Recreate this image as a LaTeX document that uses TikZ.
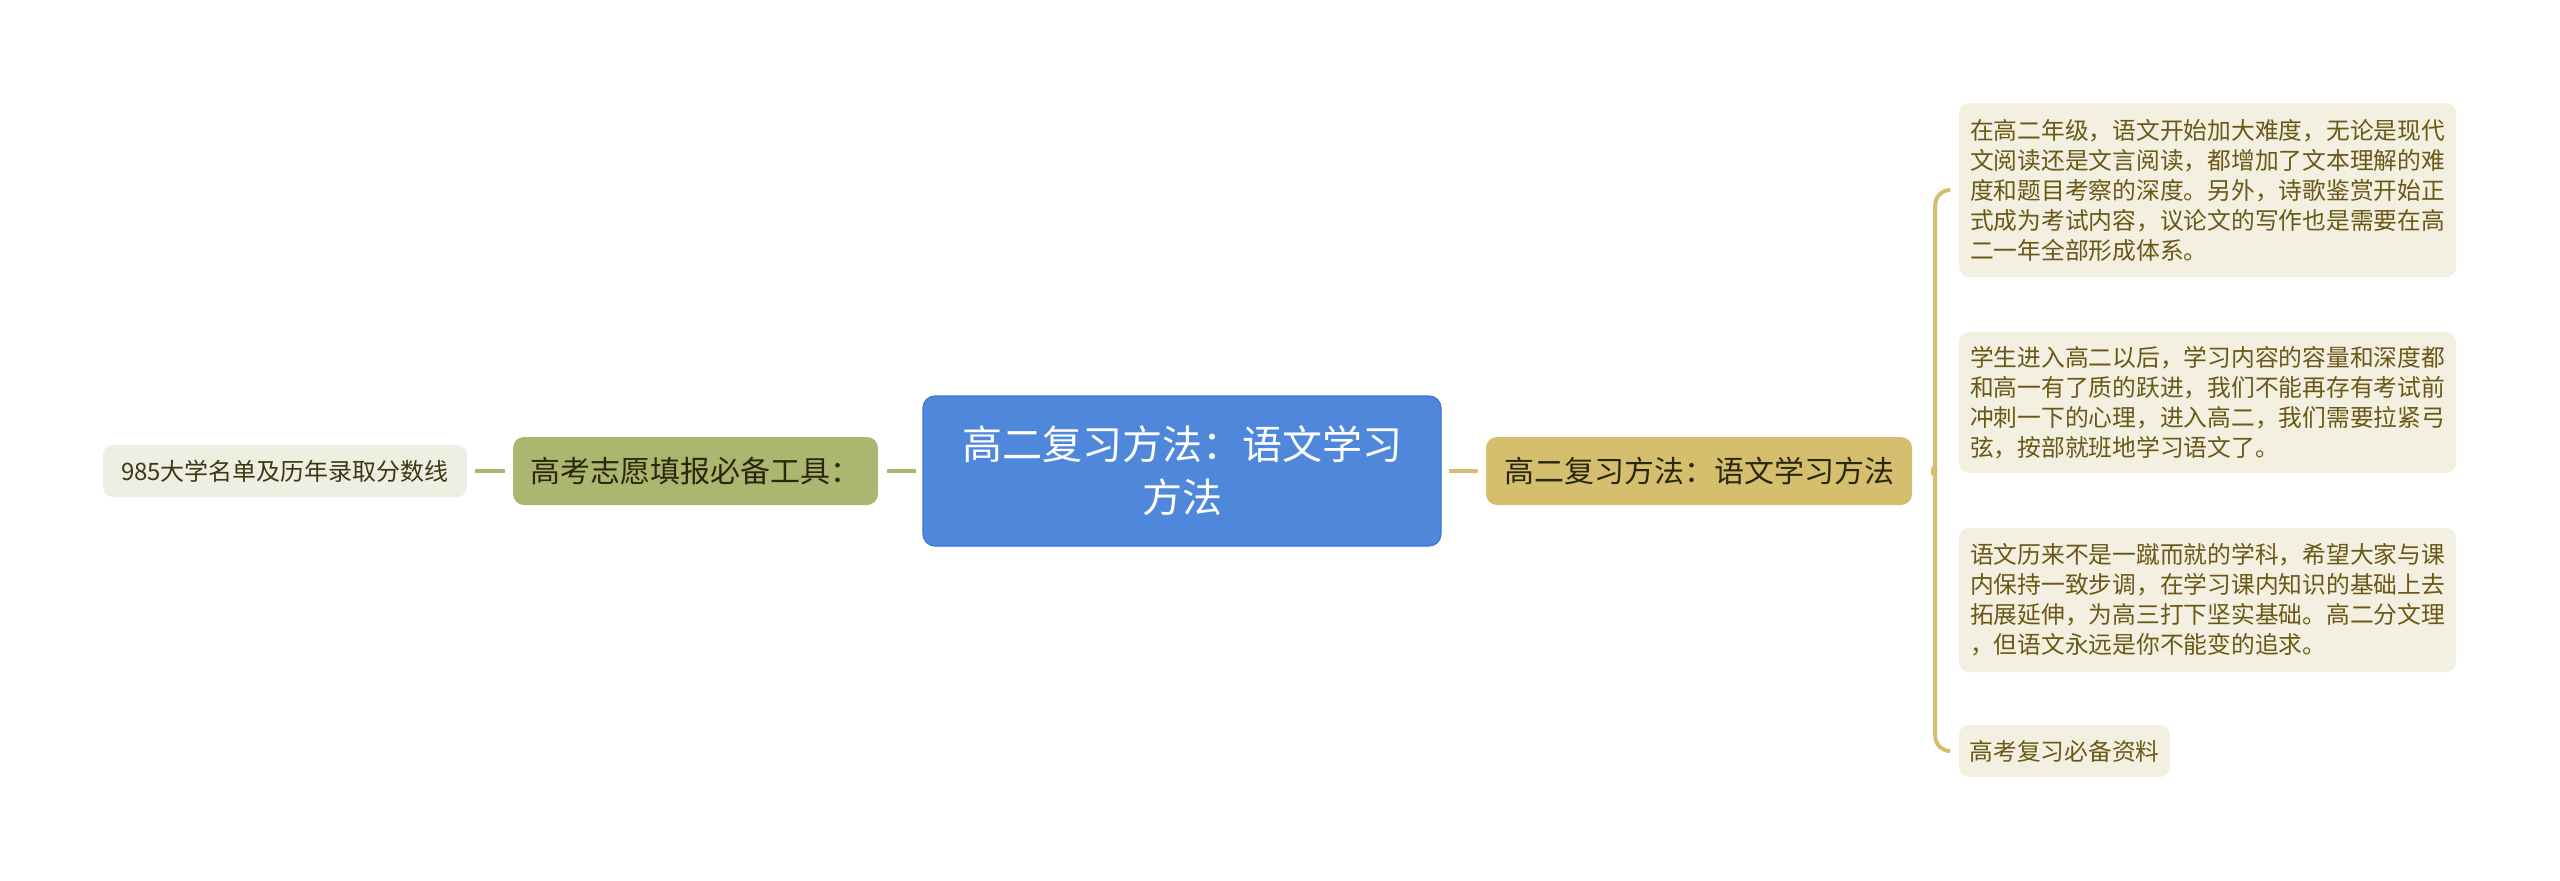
\documentclass[tikz,border=0pt]{standalone}
\usepackage{fontspec}
\setmainfont{Noto Sans CJK SC}
\usetikzlibrary{calc}
\definecolor{blueC}{HTML}{4F87DB}
\definecolor{blueB}{HTML}{3A76D8}
\definecolor{oliveC}{HTML}{ADB66E}
\definecolor{goldC}{HTML}{D5BE6E}
\definecolor{leafLC}{HTML}{EEEEE3}
\definecolor{leafRC}{HTML}{F3F0E1}
\definecolor{txtR}{HTML}{6B5716}
\definecolor{txtL}{HTML}{3A3A12}
\definecolor{txtM}{HTML}{28280E}
\begin{document}
\begin{tikzpicture}[x=1pt,y=-1pt,
  box/.style={rectangle, inner sep=0pt, align=center},
  centerbox/.style={box, rounded corners=12pt, fill=blueC, draw=blueB, line width=1.2pt,
    text=white, font=\fontsize{40}{53}\selectfont},
  mainL/.style={box, rounded corners=11pt, fill=oliveC, text=txtM, font=\fontsize{30}{36}\selectfont},
  mainR/.style={box, rounded corners=11pt, fill=goldC, text=txtM, font=\fontsize{30}{36}\selectfont},
  leafL/.style={box, rounded corners=10pt, fill=leafLC, text=txtL, font=\fontsize{24}{30}\selectfont},
  leafR/.style={box, rounded corners=10pt, fill=leafRC, text=txtR, align=left, font=\fontsize{23.75}{30}\selectfont},
  connL/.style={draw=oliveC, line width=4.5pt},
  connR/.style={draw=goldC, line width=4.5pt},
  bracestyle/.style={draw=goldC, line width=4pt, line cap=round}
]
\useasboundingbox (0,0) rectangle (2560,881);
\fill[white] (0,0) rectangle (2560,881);

\node[centerbox, minimum width=518pt, minimum height=150pt] (c) at (1182,471) {高二复习方法：语文学习\\方法};
\node[mainL, minimum width=365pt, minimum height=68pt] (mL) at (695.5,471) {高考志愿填报必备工具：};
\node[mainR, minimum width=426pt, minimum height=68pt] (mR) at (1699,471) {高二复习方法：语文学习方法};
\node[leafL, minimum width=364pt, minimum height=52pt] (lf) at (285,471) {985大学名单及历年录取分数线};

\node[leafR, minimum width=497pt, minimum height=174pt] (r1) at (2207.5,190) {在高二年级，语文开始加大难度，无论是现代\\文阅读还是文言阅读，都增加了文本理解的难\\度和题目考察的深度。另外，诗歌鉴赏开始正\\式成为考试内容，议论文的写作也是需要在高\\二一年全部形成体系。};
\node[leafR, minimum width=497pt, minimum height=141pt] (r2) at (2207.5,402.5) {学生进入高二以后，学习内容的容量和深度都\\和高一有了质的跃进，我们不能再存有考试前\\冲刺一下的心理，进入高二，我们需要拉紧弓\\弦，按部就班地学习语文了。};
\node[leafR, minimum width=497pt, minimum height=144pt] (r3) at (2207.5,600) {语文历来不是一蹴而就的学科，希望大家与课\\内保持一致步调，在学习课内知识的基础上去\\拓展延伸，为高三打下坚实基础。高二分文理\\，但语文永远是你不能变的追求。};
\node[leafR, minimum width=211pt, minimum height=52pt] (r4) at (2064.5,751) {高考复习必备资料};

\draw[connL, shorten <=8pt, shorten >=8pt] (lf.east) -- (mL.west);
\draw[connL, shorten <=9pt, shorten >=6pt] (mL.east) -- (c.west);
\draw[connR, shorten <=7pt, shorten >=8pt] (c.east) -- (mR.west);

\coordinate (bx) at ($(mR.east)+(23,0)$);
\coordinate (tip) at ($(mR.east)+(10,0)$);
\draw[bracestyle, rounded corners=15pt]
  ($(r1.west)+(-9,0)$) -- (r1.west -| bx) -- ($(bx)+(0,-18)$)
  .. controls +(0,12) and +(7,0) .. (tip)
  .. controls +(7,0) and +(0,-12) .. ($(bx)+(0,18)$)
  -- (r4.west -| bx) -- ($(r4.west)+(-9,0)$);
\end{tikzpicture}
\end{document}
